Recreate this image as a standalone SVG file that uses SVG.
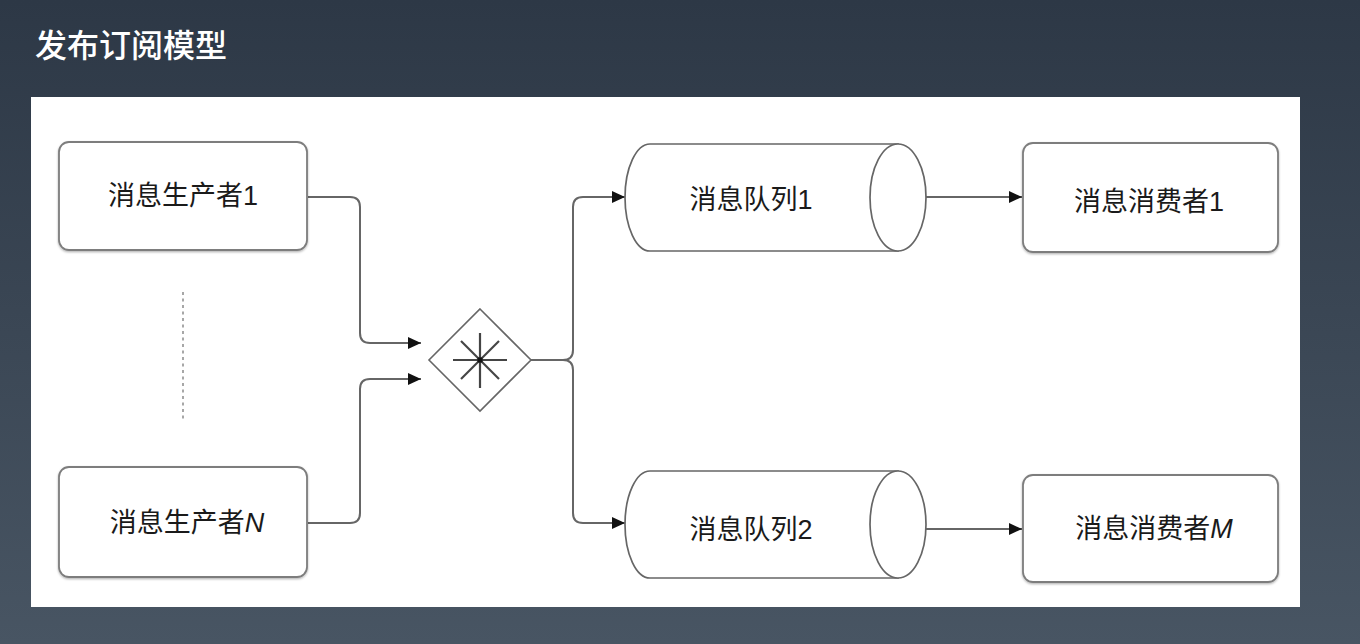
<svg xmlns="http://www.w3.org/2000/svg" width="1360" height="644" viewBox="0 0 1360 644">
<style>
.box{fill:#fff;stroke:#7d7d7d;stroke-width:1.8;filter:url(#sh)}
.cyl{fill:#fff;stroke:#666;stroke-width:1.7}
.lbl{font-family:"Liberation Sans","Noto Sans CJK SC",sans-serif;font-size:27px;fill:#1a1a1a;text-anchor:middle}
.it{font-style:italic}
.conn{fill:none;stroke:#666;stroke-width:2;marker-end:url(#arr)}
</style>
<defs>
<linearGradient id="bg" x1="0" y1="0" x2="0" y2="1">
<stop offset="0" stop-color="#2d3846"/>
<stop offset="1" stop-color="#485563"/>
</linearGradient>
<filter id="sh" x="-5%" y="-5%" width="110%" height="115%">
<feDropShadow dx="0" dy="1.2" stdDeviation="1" flood-color="#000" flood-opacity="0.3"/>
</filter>
<marker id="arr" markerUnits="userSpaceOnUse" markerWidth="13" markerHeight="12" refX="13" refY="6" orient="auto">
<path d="M0,0 L13,6 L0,12 z" fill="#111"/>
</marker>
</defs>
<rect x="0" y="0" width="1360" height="644" fill="url(#bg)"/>
<text x="35" y="57" font-family="Liberation Sans,'Noto Sans CJK SC',sans-serif" font-size="32" font-weight="500" fill="#fff">发布订阅模型</text>
<rect x="31" y="97" width="1269" height="510" fill="#fff"/>

<g id="connectors">
<path class="conn" d="M308,197 H350 Q360,197 360,207 V333 Q360,343 370,343 H421"/>
<path class="conn" d="M308,523 H350 Q360,523 360,513 V389 Q360,379 370,379 H421"/>
<path class="conn" d="M531,360 H563 Q573,360 573,350 V207 Q573,197 583,197 H625"/>
<path class="conn" d="M531,360 H563 Q573,360 573,370 V513 Q573,523 583,523 H625"/>
<path class="conn" d="M926,197 H1022"/>
<path class="conn" d="M926,529 H1022"/>
<line x1="183" y1="292" x2="183" y2="420" stroke="#8a8a8a" stroke-width="1.5" stroke-dasharray="3,3.5"/>
</g>

<g id="producer1">
<rect class="box" x="59" y="142" width="248" height="108" rx="10"/>
<text class="lbl" x="183" y="205">消息生产者1</text>
</g>
<g id="producerN">
<rect class="box" x="59" y="467" width="248" height="110" rx="10"/>
<text class="lbl" x="187" y="532">消息生产者<tspan class="it">N</tspan></text>
</g>

<g id="exchange">
<path d="M480,309 L531,360 L480,411 L429,360 Z" fill="#fff" stroke="#666" stroke-width="1.6"/>
<g stroke="#444" stroke-width="2.2">
<line x1="453" y1="360" x2="507" y2="360"/>
<line x1="480" y1="333" x2="480" y2="388"/>
<line x1="461" y1="341" x2="499" y2="379"/>
<line x1="499" y1="341" x2="461" y2="379"/>
</g>
<rect x="477.5" y="357.5" width="5" height="5" fill="#111"/>
</g>

<g id="queue1">
<path class="cyl" d="M898,144 H650 A25,53.5 0 0 0 650,251 H898 Z"/>
<ellipse class="cyl" cx="898" cy="197.5" rx="28" ry="53.5"/>
<text class="lbl" x="751" y="209">消息队列1</text>
</g>
<g id="queue2">
<path class="cyl" d="M898,471 H650 A25,53.5 0 0 0 650,578 H898 Z"/>
<ellipse class="cyl" cx="898" cy="524.5" rx="28" ry="53.5"/>
<text class="lbl" x="751" y="539">消息队列2</text>
</g>

<g id="consumer1">
<rect class="box" x="1023" y="143" width="255" height="109" rx="10"/>
<text class="lbl" x="1149" y="211">消息消费者1</text>
</g>
<g id="consumerM">
<rect class="box" x="1023" y="475" width="255" height="107" rx="10"/>
<text class="lbl" x="1154" y="538">消息消费者<tspan class="it">M</tspan></text>
</g>
</svg>
